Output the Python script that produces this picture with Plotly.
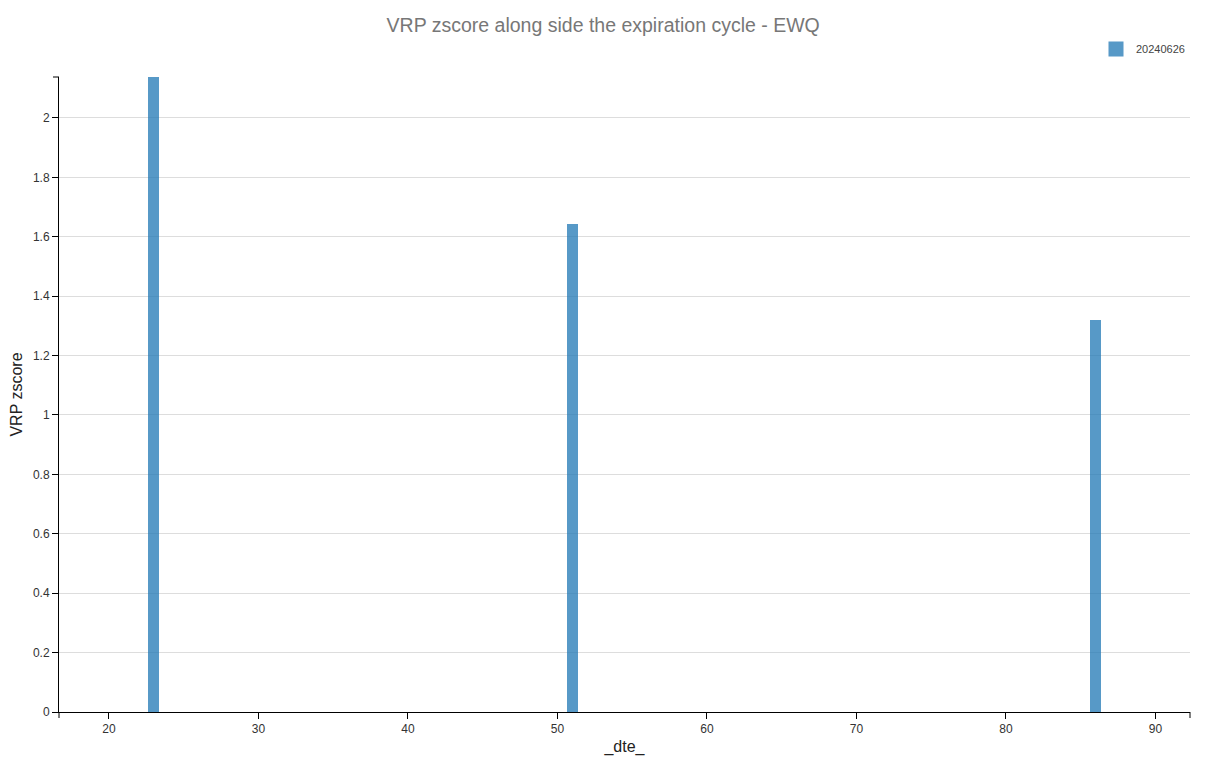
import plotly.graph_objects as go

dte = [23, 51, 86]
vrp_zscore = [2.138, 1.643, 1.32]
series_name = "20240626"
title = "VRP zscore along side the expiration cycle - EWQ"

BAR_COLOR = "rgba(31,119,180,0.75)"

fig = go.Figure()
fig.add_trace(
    go.Bar(
        x=dte,
        y=vrp_zscore,
        name=series_name,
        width=0.75,
        marker=dict(color=BAR_COLOR, line=dict(width=0)),
        showlegend=False,
    )
)
# legend-only entry so the swatch can be a bigger square
fig.add_trace(
    go.Scatter(
        x=[None],
        y=[None],
        mode="markers",
        name=series_name,
        marker=dict(symbol="square", size=15, color=BAR_COLOR),
        showlegend=True,
    )
)

font_family = "Liberation Sans, Arial, sans-serif"
fig.update_layout(
    width=1206,
    height=764,
    paper_bgcolor="white",
    plot_bgcolor="white",
    margin=dict(l=51, r=24, t=69, b=60, autoexpand=False),
    font=dict(family=font_family, size=12, color="#333"),
    title=dict(
        text=title,
        x=0.4935,
        xanchor="center",
        y=0.977,
        yanchor="middle",
        font=dict(size=19.5, color="#777"),
    ),
    showlegend=True,
    legend=dict(
        x=1.0,
        xanchor="right",
        y=1.044,
        yanchor="middle",
        font=dict(size=11, color="#444"),
        bgcolor="rgba(0,0,0,0)",
    ),
    bargap=0,
)
fig.update_xaxes(
    range=[16.656, 92.31],
    tickvals=[20, 30, 40, 50, 60, 70, 80, 90],
    showgrid=False,
    zeroline=False,
    showline=True,
    linecolor="black",
    linewidth=1,
    ticks="outside",
    ticklen=6,
    tickcolor="black",
    tickfont=dict(size=12, color="#333"),
    automargin=False,
    title=dict(text="_dte_", font=dict(size=16, color="#222"), standoff=5),
)
fig.update_yaxes(
    range=[0, 2.138],
    tickvals=[0, 0.2, 0.4, 0.6, 0.8, 1, 1.2, 1.4, 1.6, 1.8, 2],
    ticktext=["0", "0.2", "0.4", "0.6", "0.8", "1", "1.2", "1.4", "1.6", "1.8", "2"],
    showgrid=True,
    gridcolor="#dddddd",
    gridwidth=1,
    zeroline=False,
    showline=True,
    linecolor="black",
    linewidth=1,
    ticks="outside",
    ticklen=6,
    tickcolor="black",
    tickfont=dict(size=12, color="#333"),
    automargin=False,
    title=dict(text="VRP zscore", font=dict(size=16, color="#222"), standoff=6),
)

# outer end ticks on both axes
end_tick = dict(type="line", xref="paper", yref="paper", line=dict(color="black", width=1))
fig.add_shape(**end_tick, xsizemode="pixel", xanchor=0, x0=-6, x1=0, y0=1, y1=1)
fig.add_shape(**end_tick, ysizemode="pixel", yanchor=0, y0=-6, y1=0, x0=0, x1=0)
fig.add_shape(**end_tick, ysizemode="pixel", yanchor=0, y0=-6, y1=0, x0=1, x1=1)

fig.write_html("out.html")
